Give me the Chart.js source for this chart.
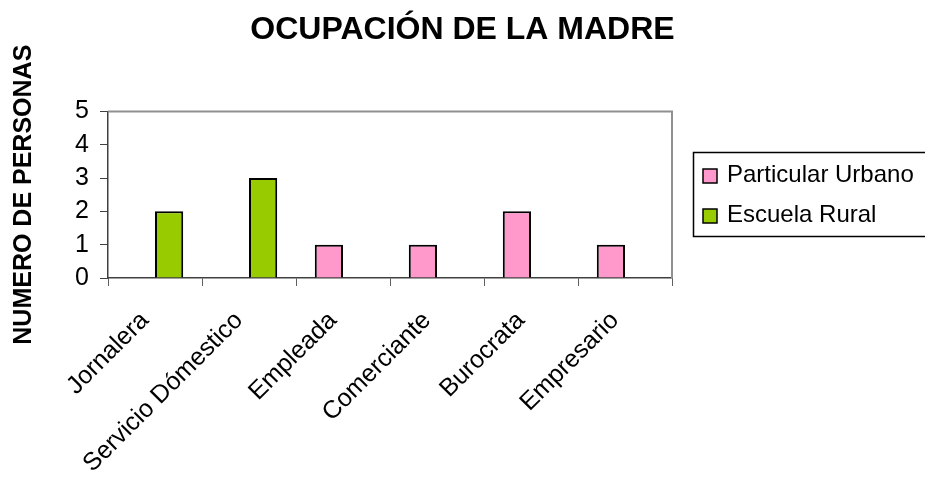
<!DOCTYPE html>
<html>
<head>
<meta charset="utf-8">
<script src="https://cdn.jsdelivr.net/npm/chart.js@4"></script>
<style>
html,body{margin:0;padding:0;background:#fff;}
#wrap{width:925px;height:478px;position:relative;}
</style>
</head>
<body>
<div id="wrap"><canvas id="c" width="925" height="478"></canvas></div>
<script>
const categories = ['Jornalera', 'Servicio Dómestico', 'Empleada', 'Comerciante', 'Burocrata', 'Empresario'];
const particularUrbano = [null, null, 1, 1, 2, 1];
const escuelaRural = [2, 3, null, null, null, null];
const seriesNames = ['Particular Urbano', 'Escuela Rural'];
const yTicks = [0, 1, 2, 3, 4, 5];
const chartTitle = 'OCUPACIÓN DE LA MADRE';
const yTitle = 'NUMERO DE PERSONAS';

const FONT = "'Liberation Sans', Arial, sans-serif";
const PINK = '#FF99CC';
const GREEN = '#99CC00';

const boxPlugin = {
  id: 'plotBox',
  beforeDatasetsDraw(chart) {
    const {ctx, chartArea: a} = chart;
    ctx.save();
    ctx.strokeStyle = '#909090';
    ctx.lineWidth = 2;
    ctx.beginPath();
    ctx.moveTo(a.left, a.top);
    ctx.lineTo(a.right, a.top);
    ctx.lineTo(a.right, a.bottom);
    ctx.stroke();
    ctx.restore();
  }
};

const legendPlugin = {
  id: 'boxLegend',
  afterDraw(chart) {
    const {ctx} = chart;
    ctx.save();
    ctx.strokeStyle = '#000';
    ctx.lineWidth = 1.5;
    ctx.strokeRect(693.5, 152.5, 260, 84);
    const items = chart.data.datasets;
    const ys = [176, 216];
    items.forEach((ds, i) => {
      const y = ys[i];
      ctx.fillStyle = ds.backgroundColor;
      ctx.fillRect(703, y - 7, 14, 14);
      ctx.strokeStyle = '#000';
      ctx.lineWidth = 1.5;
      ctx.strokeRect(703, y - 7, 14, 14);
      ctx.fillStyle = '#000';
      ctx.font = '24px ' + FONT;
      ctx.textBaseline = 'middle';
      ctx.textAlign = 'left';
      ctx.fillText(ds.label, 727, y - 1);
    });
    ctx.restore();
  }
};

new Chart(document.getElementById('c'), {
  type: 'bar',
  data: {
    labels: categories,
    datasets: [
      {label: seriesNames[0], data: particularUrbano, backgroundColor: PINK, borderColor: '#000', borderWidth: 2, yAxisID: 'y'},
      {label: seriesNames[1], data: escuelaRural, backgroundColor: GREEN, borderColor: '#000', borderWidth: 2, yAxisID: 'y'}
    ]
  },
  plugins: [boxPlugin, legendPlugin],
  options: {
    responsive: false,
    animation: false,
    events: [],
    layout: {padding: {left: 0, right: 0, top: 0, bottom: 0}},
    datasets: {bar: {categoryPercentage: 0.6, barPercentage: 1.0}},
    plugins: {
      legend: {display: false},
      tooltip: {enabled: false},
      title: {
        display: true,
        text: chartTitle,
        color: '#000',
        font: {family: FONT, size: 32, weight: 'bold'},
        padding: {top: 11, bottom: 62}
      }
    },
    scales: {
      x: {
        type: 'category',
        grid: {display: true, drawOnChartArea: false, drawTicks: true, tickLength: 8, color: '#606060', offset: true},
        border: {display: true, color: '#404040', width: 1.5},
        ticks: {color: '#000', font: {family: FONT, size: 25}, minRotation: 45, maxRotation: 45, autoSkip: false, padding: 20, labelOffset: -10},
        afterFit(s) { s.height = 200; }
      },
      y: {
        type: 'linear',
        position: 'left',
        min: 0,
        max: 5,
        afterBuildTicks(s) { s.ticks = yTicks.map(v => ({value: v})); },
        grid: {display: true, drawOnChartArea: false, drawTicks: true, tickLength: 8, color: '#404040'},
        border: {display: true, color: '#404040', width: 1.5},
        ticks: {color: '#000', font: {family: FONT, size: 25}, padding: 11},
        title: {display: true, text: yTitle, color: '#000', font: {family: FONT, size: 25, weight: 'bold'}, padding: {top: 9, bottom: 0}},
        afterFit(s) { s.width = 108; }
      },
      yR: {
        type: 'linear',
        position: 'right',
        display: true,
        grid: {display: false},
        border: {display: false},
        ticks: {display: false},
        afterFit(s) { s.width = 253; }
      }
    }
  }
});
</script>
</body>
</html>
